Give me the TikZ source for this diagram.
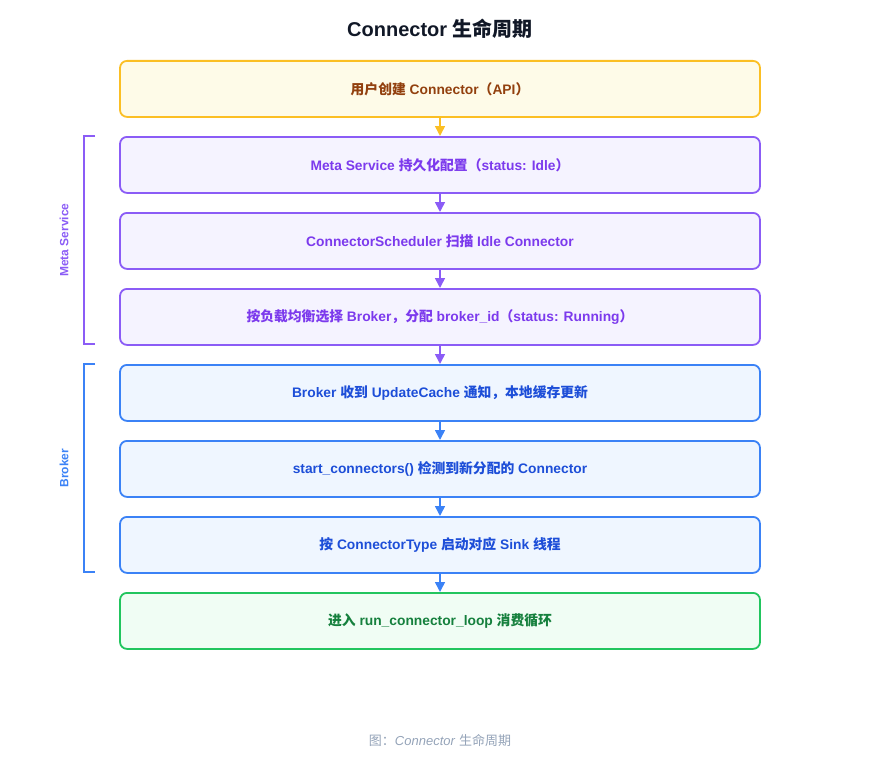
\documentclass[tikz,border=0pt]{standalone}
\usepackage{fontspec}
\setmainfont{Liberation Sans}
\newfontfamily\cjk{Noto Sans CJK SC}
\usetikzlibrary{arrows.meta}
\definecolor{ybord}{HTML}{FBBF24}
\definecolor{yfill}{HTML}{FEFBE8}
\definecolor{ytext}{HTML}{92400E}
\definecolor{pbord}{HTML}{8B5CF6}
\definecolor{pfill}{HTML}{F5F3FF}
\definecolor{ptext}{HTML}{7C3AED}
\definecolor{bbord}{HTML}{3B82F6}
\definecolor{bfill}{HTML}{EFF6FF}
\definecolor{btext}{HTML}{1D4ED8}
\definecolor{gbord}{HTML}{22C55E}
\definecolor{gfill}{HTML}{F0FDF4}
\definecolor{gtext}{HTML}{15803D}
\definecolor{titlec}{HTML}{111827}
\definecolor{capc}{HTML}{94A3B8}
\newcommand{\cj}[1]{{\cjk #1}}
\begin{document}
\begin{tikzpicture}[x=1pt,y=-1pt,
  stepbox/.style={draw,line width=1.8pt,rounded corners=7pt,minimum width=640pt,minimum height=56pt,
    font=\fontsize{13.8}{16}\selectfont\bfseries,anchor=north,inner sep=0pt},
  ybox/.style={stepbox,draw=ybord,fill=yfill,text=ytext},
  pbox/.style={stepbox,draw=pbord,fill=pbord!8,fill=pfill,text=ptext},
  bbox/.style={stepbox,draw=bbord,fill=bfill,text=btext},
  gbox/.style={stepbox,draw=gbord,fill=gfill,text=gtext},
  arr/.style={line width=1.6pt,-{Triangle[width=10pt,length=10pt]}},
  brk/.style={line width=1.8pt},
  grouplbl/.style={rotate=90,font=\fontsize{12}{14}\selectfont\bfseries}
]
\useasboundingbox (0,0) rectangle (880,760);
\node[font=\fontsize{20}{24}\selectfont\bfseries,text=titlec] (title) at (440,29) {Connector \cj{生命周期}};
\node[ybox] (n1) at (440,60) {\cj{用户创建} Connector\cj{（}API\cj{）}};
\node[pbox] (n2) at (440,136) {Meta Service \cj{持久化配置（}status: Idle\cj{）}};
\node[pbox] (n3) at (440,212) {ConnectorScheduler \cj{扫描} Idle Connector};
\node[pbox] (n4) at (440,288) {\cj{按负载均衡选择} Broker\cj{，分配} broker\_id\cj{（}status: Running\cj{）}};
\node[bbox] (n5) at (440,364) {Broker \cj{收到} UpdateCache \cj{通知，本地缓存更新}};
\node[bbox] (n6) at (440,440) {start\_connectors() \cj{检测到新分配的} Connector};
\node[bbox] (n7) at (440,516) {\cj{按} ConnectorType \cj{启动对应} Sink \cj{线程}};
\node[gbox] (n8) at (440,592) {\cj{进入} run\_connector\_loop \cj{消费循环}};
\draw[arr,draw=ybord,fill=ybord] (n1.south) -- (n2.north);
\draw[arr,draw=pbord,fill=pbord] (n2.south) -- (n3.north);
\draw[arr,draw=pbord,fill=pbord] (n3.south) -- (n4.north);
\draw[arr,draw=pbord,fill=pbord] (n4.south) -- (n5.north);
\draw[arr,draw=bbord,fill=bbord] (n5.south) -- (n6.north);
\draw[arr,draw=bbord,fill=bbord] (n6.south) -- (n7.north);
\draw[arr,draw=bbord,fill=bbord] (n7.south) -- (n8.north);
% brackets
\coordinate (m1) at (95,136);
\coordinate (m2) at (84,136);
\coordinate (m3) at (84,344);
\coordinate (m4) at (95,344);
\draw[brk,draw=pbord] (m1) -- (m2) -- (m3) -- (m4);
\node[grouplbl,text=pbord] (lm) at (64,240) {Meta Service};
\coordinate (b1) at (95,364);
\coordinate (b2) at (84,364);
\coordinate (b3) at (84,572);
\coordinate (b4) at (95,572);
\draw[brk,draw=bbord] (b1) -- (b2) -- (b3) -- (b4);
\node[grouplbl,text=bbord] (lb) at (64,468) {Broker};
\node[font=\fontsize{13}{15}\selectfont,text=capc] (cap) at (440,741) {\cj{图：}\textit{Connector} \cj{生命周期}};
\end{tikzpicture}
\end{document}
